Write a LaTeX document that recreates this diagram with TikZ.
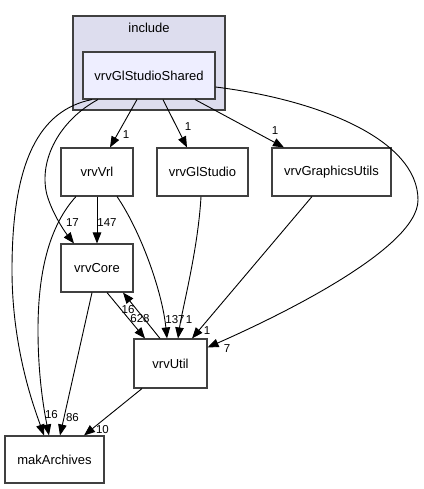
\documentclass[tikz,border=0pt]{standalone}
\usepackage{fontspec}
\setmainfont{Liberation Sans}
\usetikzlibrary{arrows.meta}
\definecolor{clfill}{HTML}{DDDDEE}
\definecolor{shfill}{HTML}{EEEEFF}
\definecolor{bord}{HTML}{404040}
\begin{document}
\begin{tikzpicture}[x=1pt,y=-1pt,
  box/.style={draw=bord,line width=1.1pt,fill=white,inner sep=0pt,font=\fontsize{13}{15}\selectfont},
  dep/.style={draw=black,line width=0.9pt,-{Triangle[length=11pt,width=8.5pt]}},
  lbl/.style={inner sep=0pt,font=\fontsize{11.5}{13}\selectfont}]
\useasboundingbox (0,0) rectangle (423,489);
\node[draw=bord,line width=1.1pt,fill=clfill,minimum width=152pt,minimum height=94pt,inner sep=0pt] (cl) at (149,63) {};
\node[font=\fontsize{13}{15}\selectfont] (cllbl) at (149,28) {include};
\node[box,fill=shfill,minimum width=132pt,minimum height=47pt] (sh) at (149,75.5) {vrvGlStudioShared};
\node[box,minimum width=72pt,minimum height=48pt] (vrl) at (97,172) {vrvVrl};
\node[box,minimum width=91pt,minimum height=48pt] (gls) at (202.5,172) {vrvGlStudio};
\node[box,minimum width=119pt,minimum height=48pt] (gu) at (331.5,172) {vrvGraphicsUtils};
\node[box,minimum width=72pt,minimum height=48pt] (core) at (97,268) {vrvCore};
\node[box,minimum width=73pt,minimum height=49pt] (util) at (170.5,363.5) {vrvUtil};
\node[box,minimum width=99pt,minimum height=47pt] (mak) at (54.5,459.5) {makArchives};

% from vrvGlStudioShared
\draw[dep] ([xshift=-12pt]sh.south) -- ([xshift=13pt]vrl.north);
\draw[dep] ([xshift=14pt]sh.south) -- ([xshift=-15.5pt]gls.north);
\draw[dep] ([xshift=46pt]sh.south) -- ([xshift=-47.5pt]gu.north);
\draw[dep] ([yshift=-11.5pt]sh.east) .. controls (320,100) and (418,140) .. (418,200)
   .. controls (418,250) and (270,320) .. ([yshift=-9pt]util.north east);
\draw[dep] ([xshift=-51pt]sh.south) .. controls (60,120) and (38,160) .. (47,195)
   .. controls (53,215) and (65,232) .. ([xshift=-23pt]core.north);
\draw[dep] ([xshift=-57pt]sh.south) .. controls (40,110) and (12,160) .. (12,270)
   .. controls (12,350) and (35,410) .. ([xshift=-10.5pt]mak.north);
% from vrvVrl
\draw[dep] (vrl.south) -- (core.north);
\draw[dep] ([xshift=-21pt]vrl.south) .. controls (50,225) and (38,270) .. (38,330)
   .. controls (38,380) and (45,415) .. ([xshift=-5.5pt]mak.north);
\draw[dep] ([xshift=20pt]vrl.south) .. controls (140,230) and (162,290) .. ([xshift=-3.5pt]util.north);
% others
\draw[dep] ([xshift=-1.5pt]gls.south) .. controls (198,250) and (182,310) .. ([xshift=7.5pt]util.north);
\draw[dep] ([xshift=-19.5pt]gu.south) -- ([xshift=21.5pt]util.north);
\draw[dep] ([xshift=10pt]core.south) -- ([xshift=-25.5pt]util.north);
\draw[dep] ([xshift=-10.5pt]util.north) -- ([xshift=26pt]core.south);
\draw[dep] ([xshift=-5pt]core.south) -- ([xshift=5.5pt]mak.north);
\draw[dep] ([xshift=-28.5pt]util.south) -- ([xshift=29.5pt]mak.north);

% labels
\node[lbl] (l1) at (126,135) {1};
\node[lbl] (l2) at (188,127) {1};
\node[lbl] (l3) at (275,131) {1};
\node[lbl] (l4) at (72.5,223) {17};
\node[lbl] (l5) at (107,223) {147};
\node[lbl] (l6) at (51.5,415) {16};
\node[lbl] (l7) at (72.5,418) {86};
\node[lbl] (l8) at (102.5,430) {10};
\node[lbl] (l9) at (128,310) {16};
\node[lbl] (l10) at (140,319) {628};
\node[lbl] (l11) at (175,320) {137};
\node[lbl] (l12) at (189,320) {1};
\node[lbl] (l13) at (207,331) {1};
\node[lbl] (l14) at (227,349) {7};
\end{tikzpicture}
\end{document}
